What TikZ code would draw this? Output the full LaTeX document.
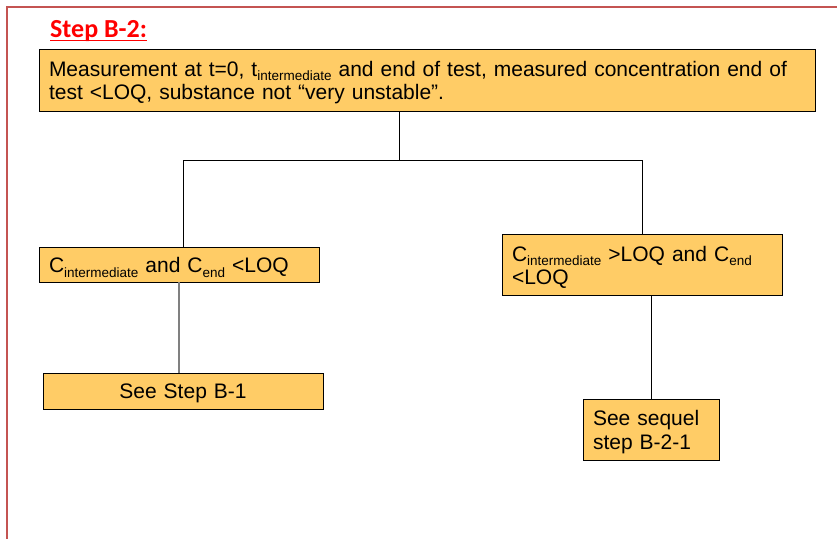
\documentclass[tikz,border=0pt]{standalone}
\usepackage{fontspec}
\setmainfont{Liberation Sans}
\newfontfamily\titlefont{Carlito}
\definecolor{boxfill}{RGB}{255,204,102}
\definecolor{framered}{RGB}{196,84,82}
\definecolor{titlered}{RGB}{255,0,0}
\newcommand\lsub[1]{\raisebox{-4.5pt}{\fontsize{13.5}{14}\selectfont #1}}
\newcommand\tstrut[1]{\rule{0pt}{#1}}
\begin{document}
\begin{tikzpicture}[x=1pt,y=-1pt,
  box/.style={draw=black, line width=0.9pt, fill=boxfill, inner xsep=10pt, inner ysep=0pt,
    font=\fontsize{21}{23.5}\selectfont, align=left},
  conn/.style={draw=black, line width=0.9pt},
  greyconn/.style={draw=black!50, line width=1.4pt}]
\useasboundingbox (0,0) rectangle (837,539);
% frame
\draw[framered, line width=2.8pt] (837,7) -- (7,7) -- (7,539);
% title
\node[anchor=base west, inner sep=0pt, text=titlered, font=\titlefont\bfseries\fontsize{26}{28}\selectfont] (title) at (50,37) {Step B-2:};
\draw[titlered, line width=1.8pt] ([yshift=-3.5pt]title.base west) -- ([yshift=-3.5pt]title.base east);
% boxes
\node[box, text width=756pt, minimum height=62pt] (top) at (427,80)
  {\tstrut{20pt}Measurement at t=0, t\lsub{intermediate} and end of test, measured concentration end of\\test <LOQ, substance not “very unstable”.};
\node[box, text width=260pt, minimum height=35pt] (L) at (179,264.5)
  {\tstrut{21.5pt}C\lsub{intermediate} and C\lsub{end} <LOQ};
\node[box, text width=260pt, minimum height=61pt] (R) at (642,264.5)
  {\tstrut{21pt}C\lsub{intermediate} >LOQ and C\lsub{end}\\<LOQ};
\node[box, text width=260pt, minimum height=36pt, align=center] (LB) at (183,391)
  {\tstrut{20pt}See Step B-1};
\node[box, text width=116pt, minimum height=61pt] (RB) at (651,429.5)
  {\tstrut{20pt}See sequel\\step B-2-1};
% connectors
\coordinate (j) at (399,160);
\coordinate (jl) at (183,160);
\coordinate (jr) at (642,160);
\draw[conn] (top.south -| j) -- (j);
\draw[conn] (jl |- L.north) -- (jl) -- (jr) -- (jr |- R.north);
\draw[greyconn] (L.south) -- (L.south |- LB.north);
\draw[conn] (RB.north) -- (RB.north |- R.south);
\end{tikzpicture}
\end{document}
